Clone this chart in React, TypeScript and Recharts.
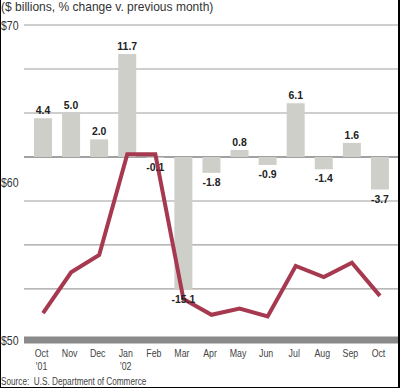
import React from "react";
import {
  ComposedChart,
  Bar,
  Line,
  XAxis,
  YAxis,
  CartesianGrid,
  LabelList,
} from "recharts";

const months = ["Oct", "Nov", "Dec", "Jan", "Feb", "Mar", "Apr", "May", "Jun", "Jul", "Aug", "Sep", "Oct"];
const years = ["'01", "", "", "'02", "", "", "", "", "", "", "", "", ""];
const pctChange = [4.4, 5.0, 2.0, 11.7, -0.1, -15.1, -1.8, 0.8, -0.9, 6.1, -1.4, 1.6, -3.7];
const salesBillions = [51.7, 54.3, 55.4, 61.8, 61.8, 52.6, 51.6, 52.0, 51.5, 54.7, 54.0, 54.9, 52.8];
const dollarTicks = [50, 60, 70];
const pctGridTicks = [-15, -10, -5, 5, 10, 15];

const data = months.map((m, i) => ({
  key: String(i),
  month: m,
  year: years[i],
  change: pctChange[i],
  sales: salesBillions[i],
}));

const FONT = "'Liberation Sans', Arial, Helvetica, sans-serif";

const SText = (p: any) => {
  const { x, y, sx = 1, anchor = "middle", size = 11, weight = "normal", fill = "#333", children } = p;
  return (
    <text
      transform={`translate(${x} ${y}) scale(${sx} 1)`}
      textAnchor={anchor}
      fontFamily={FONT}
      fontSize={size}
      fontWeight={weight}
      fill={fill}
    >
      {children}
    </text>
  );
};

const DollarTick = (props: any) => {
  const { y, payload } = props;
  return (
    <SText x={1} y={y + 4.5} sx={0.88} anchor="start" size={12} fill="#333">
      {"$" + payload.value}
    </SText>
  );
};

const MonthTick = (props: any) => {
  const { x, payload } = props;
  const i = Number(payload.value);
  return (
    <g>
      <SText x={x - 1.5} y={357} sx={0.8} size={11} fill="#444">
        {months[i]}
      </SText>
      {years[i] ? (
        <SText x={x - 1.5} y={370} sx={0.8} size={11} fill="#444">
          {years[i]}
        </SText>
      ) : null}
    </g>
  );
};

const BarValueLabel = (props: any) => {
  const { x, y, width, height, value } = props;
  const top = Math.min(y, y + height);
  const bottom = Math.max(y, y + height);
  const cx = x + width / 2;
  const ty = value >= 0 ? top - 4 : bottom + 13;
  return (
    <SText x={cx} y={ty} sx={0.95} size={11} weight="bold" fill="#222">
      {Number(value).toFixed(1)}
    </SText>
  );
};

export default function App() {
  return (
    <div style={{ position: "absolute", left: 0, top: 0, width: 400, height: 388, background: "#fff", overflow: "hidden" }}>
      <div
        style={{
          position: "absolute",
          left: 1,
          top: 0,
          fontFamily: FONT,
          fontSize: 13,
          lineHeight: "13px",
          color: "#333",
          whiteSpace: "nowrap",
          transform: "scaleX(0.925)",
          transformOrigin: "0 0",
        }}
      >
        ($ billions, % change v. previous month)
      </div>
      <div style={{ position: "absolute", left: 0, top: 0 }}>
        <ComposedChart width={400} height={388} data={data} margin={{ top: 25, right: 2, bottom: 18, left: 0 }}>
          <YAxis yAxisId="line" orientation="left" width={24} domain={[50, 70]} ticks={dollarTicks} axisLine={false} tickLine={false} tick={<DollarTick />} allowDataOverflow />
          <YAxis yAxisId="bar" hide domain={[-20.8, 15]} ticks={pctGridTicks} allowDataOverflow />
          <YAxis yAxisId="zero" hide domain={[-20.8, 15]} ticks={[0]} allowDataOverflow />
          <YAxis yAxisId="base" hide domain={[50, 70]} ticks={[50]} allowDataOverflow />
          <XAxis dataKey="key" padding={{ left: 5, right: 4 }} axisLine={false} tickLine={false} height={30} interval={0} tick={<MonthTick />} />
          <CartesianGrid yAxisId="bar" vertical={false} syncWithTicks stroke="#a0a0a0" strokeWidth={1.2} />
          <CartesianGrid yAxisId="zero" vertical={false} syncWithTicks stroke="#444" strokeWidth={1.2} />
          <CartesianGrid yAxisId="base" vertical={false} syncWithTicks stroke="#8a8a8a" strokeWidth={7} />
          <Bar yAxisId="bar" dataKey="change" fill="#cfcfc9" barSize={18} isAnimationActive={false}>
            <LabelList dataKey="change" content={<BarValueLabel />} />
          </Bar>
          <Line yAxisId="line" dataKey="sales" type="linear" stroke="#a6384f" strokeWidth={4} dot={false} strokeLinejoin="miter" isAnimationActive={false} />
        </ComposedChart>
      </div>
      <div
        style={{
          position: "absolute",
          left: 1,
          top: 376,
          fontFamily: FONT,
          fontSize: 10,
          lineHeight: "11px",
          color: "#444",
          whiteSpace: "nowrap",
          transform: "scaleX(0.82)",
          transformOrigin: "0 0",
        }}
      >
        Source:&nbsp; U.S. Department of Commerce
      </div>
      <div
        style={{
          position: "absolute",
          left: 0,
          top: 0,
          width: 400,
          height: 388,
          boxSizing: "border-box",
          borderLeft: "1px solid #000",
          borderRight: "2px solid #000",
          borderBottom: "1px solid #000",
          pointerEvents: "none",
        }}
      />
    </div>
  );
}
